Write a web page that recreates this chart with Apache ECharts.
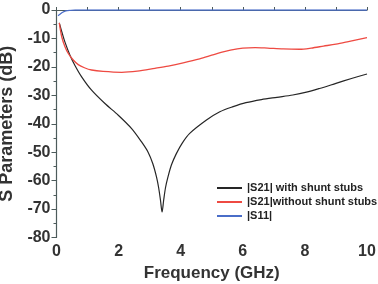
<!DOCTYPE html>
<html>
<head>
<meta charset="utf-8">
<script src="https://cdn.jsdelivr.net/npm/echarts@6/dist/echarts.min.js"></script>
<style>
  html, body { margin: 0; padding: 0; background: #fff; }
  #chart { width: 378px; height: 284px; }
</style>
</head>
<body>
<div id="chart"></div>
<script>
// frequency (GHz), dB pairs
let s21WithStubs = [
  [0.09, -4.5], [0.18, -8], [0.27, -11.2], [0.43, -15.8], [0.59, -19.4], [0.81, -23.5],
  [1.13, -28.2], [1.56, -32.9], [1.99, -37], [2.42, -41.7], [2.74, -46.4], [2.95, -50],
  [3.1, -54], [3.22, -58.7], [3.29, -62.5], [3.35, -67], [3.40, -71], [3.45, -67],
  [3.51, -62.5], [3.59, -58.7], [3.7, -54.5], [3.86, -50.5], [4.05, -46.8],
  [4.29, -43.4], [4.83, -38.7], [5.26, -35.8], [5.69, -34], [6.1, -32.6], [6.6, -31.5],
  [7.1, -30.7], [7.61, -29.9], [8.05, -28.9], [8.47, -27.6], [9.0, -25.8], [9.5, -24.1],
  [10, -22.5]
];
let s21WithoutStubs = [
  [0.09, -4.5], [0.17, -9.5], [0.27, -12.8], [0.38, -15.3], [0.54, -17.6], [0.70, -19.2],
  [0.9, -20.3], [1.13, -21.1], [1.5, -21.6], [2.1, -21.9], [2.6, -21.5], [3.17, -20.5],
  [3.6, -19.7], [4.08, -18.6], [4.61, -17.2], [5.0, -15.9], [5.3, -14.9], [5.6, -14.1],
  [6.0, -13.4], [6.4, -13.2], [6.8, -13.4], [7.3, -13.7], [7.83, -13.8], [8.2, -13.4],
  [8.6, -12.7], [9.0, -12], [9.4, -11.1], [10, -9.7]
];
let s11 = [
  [0.05, -2], [0.1, -1.6], [0.2, -0.8], [0.3, -0.3], [0.45, -0.1], [0.6, 0],
  [2, 0], [4, 0], [6, 0], [8, 0], [10, 0]
];
let seriesNames = ['|S21| with shunt stubs', '|S21|without shunt stubs', '|S11|'];

let axisColor = '#4d5b5b';
let font = 'Liberation Sans, Arial, sans-serif';

let myChart = echarts.init(document.getElementById('chart'));
let option = {
  backgroundColor: '#fff',
  animation: false,
  grid: { left: 56.5, right: 11, top: 10, bottom: 46.5, containLabel: false, outerBoundsMode: 'none' },
  legend: {
    orient: 'vertical',
    left: 217,
    top: 181,
    padding: 0,
    itemWidth: 25,
    itemHeight: 2,
    itemGap: 0,
    icon: 'rect',
    textStyle: { fontFamily: font, fontSize: 11, fontWeight: 'bold', color: '#222', lineHeight: 14 },
    data: seriesNames
  },
  xAxis: {
    type: 'value',
    min: 0, max: 10, interval: 2,
    name: 'Frequency (GHz)',
    nameLocation: 'middle',
    nameGap: 25,
    nameTextStyle: { fontFamily: font, fontSize: 17, fontWeight: 'bold', color: '#333' },
    axisLine: { show: true, lineStyle: { color: axisColor, width: 1.2 } },
    axisTick: { inside: true, length: 3, lineStyle: { color: axisColor } },
    minorTick: { show: true, splitNumber: 2, length: 3, lineStyle: { color: axisColor } },
    axisLabel: { fontFamily: font, fontSize: 16, fontWeight: 'bold', color: '#333', margin: 6 },
    splitLine: { show: false }
  },
  yAxis: {
    type: 'value',
    min: -80, max: 0, interval: 10,
    name: 'S Parameters (dB)',
    nameLocation: 'middle',
    nameGap: 26,
    nameTextStyle: { fontFamily: font, fontSize: 18, fontWeight: 'bold', color: '#333' },
    axisLine: { show: true, lineStyle: { color: axisColor, width: 1.2 } },
    axisTick: { length: 5, lineStyle: { color: axisColor } },
    minorTick: { show: true, splitNumber: 2, length: 3, lineStyle: { color: axisColor } },
    axisLabel: { fontFamily: font, fontSize: 16, fontWeight: 'bold', color: '#333', margin: 6 },
    splitLine: { show: false }
  },
  series: [
    {
      name: seriesNames[0], type: 'line', data: s21WithStubs,
      showSymbol: false, smooth: 0.3,
      lineStyle: { color: '#262626', width: 1.2 }, itemStyle: { color: '#262626' }
    },
    {
      name: seriesNames[1], type: 'line', data: s21WithoutStubs,
      showSymbol: false, smooth: 0.3,
      lineStyle: { color: '#ee4a42', width: 1.3 }, itemStyle: { color: '#ee4a42' }
    },
    {
      name: seriesNames[2], type: 'line', data: s11,
      showSymbol: false, smooth: 0.3,
      lineStyle: { color: '#4a6dc8', width: 1.3 }, itemStyle: { color: '#4a6dc8' }
    }
  ]
};
myChart.setOption(option);
</script>
</body>
</html>
